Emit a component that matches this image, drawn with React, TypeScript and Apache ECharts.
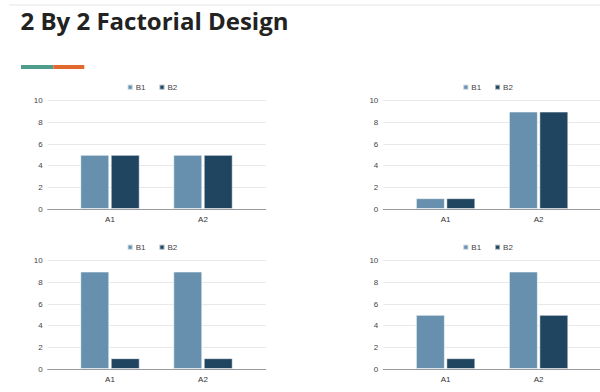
import React, { useEffect, useRef } from "react";
import * as echarts from "echarts";

const categories = ["A1", "A2"];
const seriesNames = ["B1", "B2"];
const panel1B1 = [5, 5];
const panel1B2 = [5, 5];
const panel2B1 = [1, 9];
const panel2B2 = [1, 9];
const panel3B1 = [9, 9];
const panel3B2 = [1, 1];
const panel4B1 = [5, 9];
const panel4B2 = [1, 5];
const yMin = 0;
const yMax = 10;
const yInterval = 2;
const title = "2 By 2 Factorial Design";

const colorB1 = "#6690ad";
const colorB2 = "#1f4560";

export default function App() {
  const ref = useRef<HTMLDivElement>(null);
  useEffect(() => {
    if (!ref.current) return;
    const chart = echarts.init(ref.current, null, { renderer: "svg" });
    const panels = [
      { gx: 47.7, top: 100.7, b1: panel1B1, b2: panel1B2 },
      { gx: 383.3, top: 100.7, b1: panel2B1, b2: panel2B2 },
      { gx: 47.7, top: 260.7, b1: panel3B1, b2: panel3B2 },
      { gx: 383.3, top: 260.7, b1: panel4B1, b2: panel4B2 },
    ];
    const W = 218;
    const H = 108.3;
    const grids: any[] = [];
    const xAxes: any[] = [];
    const yAxes: any[] = [];
    const series: any[] = [];
    const legends: any[] = [];
    const font = "Liberation Sans, Arial, sans-serif";
    panels.forEach((p, i) => {
      grids.push({ left: p.gx, top: p.top, width: W, height: H });
      grids.push({ left: p.gx + 15.8, top: p.top, width: 186, height: H });
      xAxes.push({
        type: "category",
        gridIndex: 2 * i,
        data: [""],
        axisTick: { show: false },
        axisLabel: { show: false },
        axisLine: { show: true, lineStyle: { color: "#9a9a9a", width: 1 } },
      });
      yAxes.push({
        type: "value",
        gridIndex: 2 * i,
        min: yMin,
        max: yMax,
        interval: yInterval,
        axisLine: { show: false },
        axisTick: { show: false },
        axisLabel: { fontSize: 8, color: "#444", margin: 5, fontFamily: font },
        splitLine: { lineStyle: { color: "#e8e8e8", width: 1 } },
      });
      xAxes.push({
        type: "category",
        gridIndex: 2 * i + 1,
        data: categories,
        axisTick: { show: false },
        axisLine: { show: false },
        axisLabel: { fontSize: 8, color: "#333", margin: 6, fontFamily: font },
      });
      yAxes.push({
        type: "value",
        gridIndex: 2 * i + 1,
        min: yMin,
        max: yMax,
        interval: yInterval,
        show: false,
        splitLine: { show: false },
      });
      [p.b1, p.b2].forEach((vals, k) => {
        series.push({
          type: "bar",
          name: seriesNames[k],
          xAxisIndex: 2 * i + 1,
          yAxisIndex: 2 * i + 1,
          data: vals,
          barWidth: 29,
          barGap: "5%",
          itemStyle: {
            color: k === 0 ? colorB1 : colorB2,
            borderColor: "rgba(255,255,255,0.55)",
            borderWidth: 1,
          },
        });
      });
      legends.push({
        data: seriesNames,
        left: p.gx + 79,
        top: p.top - 17.5,
        icon: "rect",
        itemWidth: 5,
        itemHeight: 5,
        itemGap: 13,
        selectedMode: false,
        textStyle: { fontSize: 8, color: "#444", fontFamily: font, padding: [0, 0, 0, -2] },
        padding: 0,
      });
    });
    chart.setOption({
      animation: false,
      color: [colorB1, colorB2],
      grid: grids,
      xAxis: xAxes,
      yAxis: yAxes,
      series,
      legend: legends,
      graphic: [
        {
          type: "rect",
          shape: { x: 9, y: 4.5, width: 591, height: 1 },
          style: { fill: "#e6e6e6" },
        },
        {
          type: "text",
          x: 20.5,
          y: 8,
          style: {
            text: title,
            fontSize: 24,
            fontWeight: "bold",
            fontFamily: "Open Sans, sans-serif",
            fill: "#222",
          },
        },
        {
          type: "rect",
          shape: { x: 21, y: 65, width: 32.3, height: 4 },
          style: { fill: "#4f9d8d" },
        },
        {
          type: "rect",
          shape: { x: 53.3, y: 65, width: 31, height: 4 },
          style: { fill: "#e06a2d" },
        },
      ],
    });
    return () => chart.dispose();
  }, []);
  return (
    <div
      ref={ref}
      style={{ position: "fixed", left: 0, top: 0, width: 600, height: 392, background: "#fff" }}
    />
  );
}
